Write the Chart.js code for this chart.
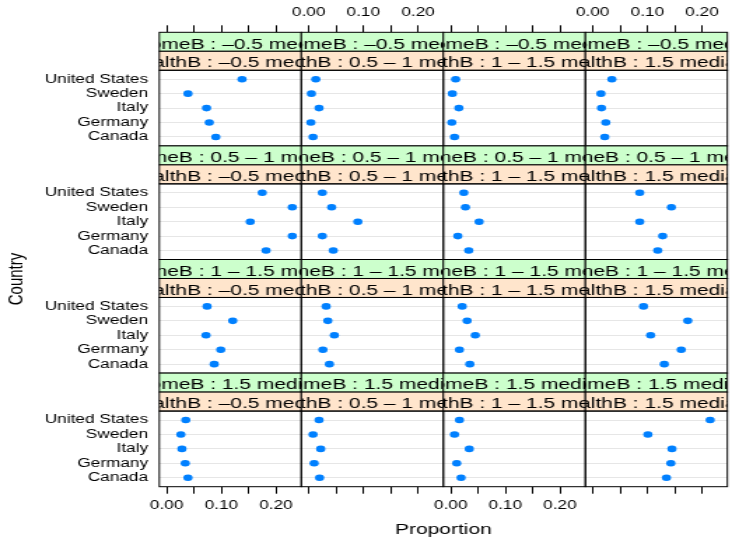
<!DOCTYPE html>
<html>
<head>
<meta charset="utf-8">
<title>Proportion by country, income and wealth</title>
<script src="https://cdn.jsdelivr.net/npm/chart.js@4.4.1/dist/chart.umd.min.js"></script>
<style>
  html, body { margin: 0; padding: 0; background: #fff; overflow: hidden; }
  /* drawn narrow, then widened so dots come out as flat ovals */
  #wrap {
    position: absolute; left: 0; top: 0;
    width: 523px; height: 538px;
    transform: scaleX(1.3996); transform-origin: 0 0;
  }
</style>
</head>
<body>
<div id="wrap"><canvas id="dots"></canvas></div>
<script>
const countries = ['United States', 'Sweden', 'Italy', 'Germany', 'Canada'];
const incomeLevels = ['incomeB : \u20130.5 median', 'incomeB : 0.5 \u2013 1 median',
                      'incomeB : 1 \u2013 1.5 median', 'incomeB : 1.5 median+'];
const wealthLevels = ['wealthB : \u20130.5 median', 'wealthB : 0.5 \u2013 1 median',
                      'wealthB : 1 \u2013 1.5 median', 'wealthB : 1.5 median+'];
const xTickValues = [0, 0.05, 0.10, 0.15, 0.20];
const xTickLabels = ['0.00', '', '0.10', '', '0.20'];

// one inner array per wealth level, countries in the order above
const incomeBelowHalf = [
  [0.138, 0.039, 0.073, 0.078, 0.090],
  [0.013, 0.005, 0.019, 0.004, 0.008],
  [0.009, 0.003, 0.015, 0.002, 0.007],
  [0.035, 0.015, 0.016, 0.024, 0.022]
];
const incomeHalfToOne = [
  [0.175, 0.230, 0.153, 0.230, 0.182],
  [0.025, 0.042, 0.090, 0.025, 0.045],
  [0.024, 0.027, 0.052, 0.013, 0.033],
  [0.086, 0.144, 0.086, 0.128, 0.119]
];
const incomeOneToOneHalf = [
  [0.074, 0.121, 0.072, 0.099, 0.087],
  [0.032, 0.035, 0.047, 0.026, 0.038],
  [0.021, 0.030, 0.045, 0.016, 0.035],
  [0.093, 0.174, 0.106, 0.162, 0.131]
];
const incomeAboveOneHalf = [
  [0.035, 0.026, 0.028, 0.034, 0.039],
  [0.019, 0.008, 0.022, 0.010, 0.020],
  [0.016, 0.007, 0.034, 0.011, 0.019],
  [0.215, 0.101, 0.145, 0.143, 0.135]
];

const FONT = '"Liberation Sans", Arial, Helvetica, sans-serif';
const X_MIN = -0.0135, X_MAX = 0.2465;
const Y_MIN = 0.38, Y_PLOT_MAX = 5.62;
const Y_MAX = 8.251;   // the space above 5.62 holds the two strips

const incomeRows = [incomeBelowHalf, incomeHalfToOne, incomeOneToOneHalf, incomeAboveOneHalf];

// dataset per panel: row = income level, column = wealth level
const datasets = [];
incomeRows.forEach((row, r) => {
  row.forEach((vals, c) => {
    datasets.push({
      data: vals.map((v, i) => ({ x: v, y: countries.length - i })),
      xAxisID: 'x' + c,
      yAxisID: 'y' + r,
      pointRadius: 3.3,
      pointHoverRadius: 3.3,
      pointBackgroundColor: '#0080ff',
      pointBorderWidth: 0,
      showLine: false
    });
  });
});

// fixed box sizes, and no extra room claimed for overhanging labels
function fixSize(s, w, h) {
  if (w !== null) s.width = w;
  if (h !== null) s.height = h;
  s.paddingLeft = s.paddingRight = s.paddingTop = s.paddingBottom = 0;
}

function xAxis(c, pos) {
  return {
    type: 'linear', axis: 'x', position: pos,
    stack: pos, stackWeight: 1,
    min: X_MIN, max: X_MAX,
    afterBuildTicks: s => { s.ticks = xTickValues.map(v => ({ value: v })); },
    afterFit: s => fixSize(s, null, pos === 'top' ? 32.3 : 51.3),
    grid: { drawOnChartArea: false, drawTicks: true, tickLength: 7, tickColor: '#000', tickWidth: 1 },
    border: { display: false },
    ticks: {
      autoSkip: false, maxRotation: 0, minRotation: 0, padding: 5, color: '#000',
      font: { family: FONT, size: 12.3 },
      // lattice alternates: labels below on odd columns, above on even ones
      callback: (v, i) => ((pos === 'bottom') === (c % 2 === 0)) ? xTickLabels[i] : ''
    }
  };
}

function yAxis(r) {
  return {
    type: 'linear', axis: 'y', position: 'left',
    stack: 'left', stackWeight: 1,
    min: Y_MIN, max: Y_MAX,
    afterBuildTicks: s => { s.ticks = [1, 2, 3, 4, 5].map(v => ({ value: v })); },
    afterFit: s => fixSize(s, 113.8, null),
    grid: { color: '#e6e6e6', lineWidth: 1, drawTicks: false },
    border: { display: false },
    ticks: {
      autoSkip: false, padding: 8, color: '#000',
      font: { family: FONT, size: 12.3 },
      callback: v => countries[countries.length - v]
    }
  };
}

// left and top boxes are laid out last-defined first
const scales = {};
for (let c = 0; c < 4; c++) scales['x' + c] = xAxis(c, 'bottom');
for (let c = 3; c >= 0; c--) scales['xt' + c] = xAxis(c, 'top');
for (let r = 3; r >= 0; r--) scales['y' + r] = yAxis(r);

function drawStrip(ctx, x, y, w, h, fill, text) {
  ctx.fillStyle = fill;
  ctx.fillRect(x, y, w, h);
  ctx.save();
  ctx.beginPath();
  ctx.rect(x, y, w, h);
  ctx.clip();
  ctx.fillStyle = '#000';
  ctx.font = '15px ' + FONT;
  ctx.textAlign = 'center';
  ctx.textBaseline = 'alphabetic';
  ctx.fillText(text, x + w / 2, y + 16.2);
  ctx.restore();
  ctx.strokeRect(x, y, w, h);
}

const panelFrame = {
  id: 'panelFrame',
  afterDraw(chart) {
    const ctx = chart.ctx;
    ctx.save();
    ctx.strokeStyle = '#000';
    ctx.lineWidth = 1;
    for (let r = 0; r < 4; r++) {
      const ys = chart.scales['y' + r];
      const plotTop = ys.getPixelForValue(Y_PLOT_MAX);
      const h = (plotTop - ys.top) / 2;
      for (let c = 0; c < 4; c++) {
        const xs = chart.scales['x' + c];
        const w = xs.right - xs.left;
        drawStrip(ctx, xs.left, ys.top, w, h, '#ccffcc', incomeLevels[r]);
        drawStrip(ctx, xs.left, ys.top + h, w, h, '#ffe5cc', wealthLevels[c]);
        ctx.strokeRect(xs.left, plotTop, w, ys.bottom - plotTop);
      }
    }

    // axis titles
    const area = chart.chartArea;
    ctx.fillStyle = '#000';
    ctx.font = '15px ' + FONT;
    ctx.textAlign = 'center';
    ctx.textBaseline = 'alphabetic';
    ctx.fillText('Proportion', (area.left + area.right) / 2, 534);
    ctx.translate(12.1, 279);
    ctx.rotate(-Math.PI / 2);
    ctx.textBaseline = 'middle';
    ctx.fillText('Country', 0, 0);
    ctx.restore();
  }
};

new Chart(document.getElementById('dots'), {
  type: 'scatter',
  data: { datasets: datasets },
  options: {
    responsive: true,
    maintainAspectRatio: false,
    animation: false,
    devicePixelRatio: 1,
    layout: { padding: { left: 0, right: 0.9, top: 0, bottom: 0 } },
    plugins: {
      legend: { display: false },
      tooltip: { enabled: false },
      title: { display: false }
    },
    scales: scales
  },
  plugins: [panelFrame]
});
</script>
</body>
</html>
